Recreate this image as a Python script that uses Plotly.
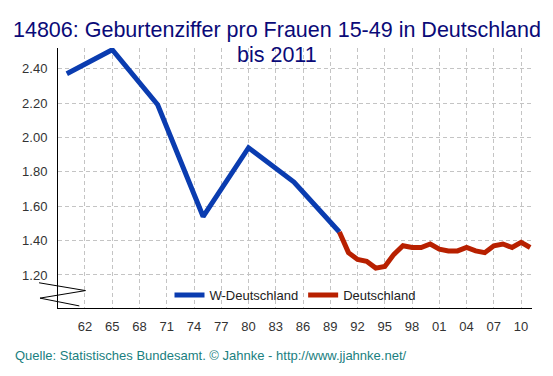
import plotly.graph_objects as go

# Data
west_years = [1960, 1965, 1970, 1975, 1980, 1985, 1990]
west_values = [2.37, 2.51, 2.19, 1.54, 1.94, 1.74, 1.45]

de_years = list(range(1990, 2012))
de_values = [1.45, 1.33, 1.29, 1.28, 1.24, 1.25, 1.32, 1.37, 1.36, 1.36, 1.38,
             1.35, 1.34, 1.34, 1.36, 1.34, 1.33, 1.37, 1.38, 1.36, 1.39, 1.36]

x_tick_vals = list(range(1962, 2011, 3))
x_tick_text = ["62", "65", "68", "71", "74", "77", "80", "83", "86", "89",
               "92", "95", "98", "01", "04", "07", "10"]
y_tick_vals = [1.2, 1.4, 1.6, 1.8, 2.0, 2.2, 2.4]

title_line1 = "14806: Geburtenziffer pro Frauen 15-49 in Deutschland"
title_line2 = "bis 2011"
footer_text = "Quelle: Statistisches Bundesamt. © Jahnke - http://www.jjahnke.net/"

FONT = "Liberation Sans, Arial, sans-serif"

fig = go.Figure()
fig.add_trace(go.Scatter(x=west_years, y=west_values, mode="lines",
                         name="W-Deutschland",
                         line=dict(color="#0a3cb0", width=5)))
fig.add_trace(go.Scatter(x=de_years, y=de_values, mode="lines",
                         name="Deutschland",
                         line=dict(color="#b82000", width=5)))

grid = dict(showgrid=True, gridcolor="#c4c4c4", griddash="4px,3px", gridwidth=1)

fig.update_layout(
    width=553, height=376,
    margin=dict(l=58, r=21, t=48, b=68),
    paper_bgcolor="white", plot_bgcolor="white",
    font=dict(family=FONT, size=13, color="#333333"),
    xaxis=dict(range=[1959.03, 2011.2], tickvals=x_tick_vals, ticktext=x_tick_text,
               showline=True, linecolor="black", linewidth=1, zeroline=False,
               ticks="", ticklabelstandoff=6,
               tickfont=dict(size=13, color="#333333"), **grid),
    yaxis=dict(range=[1.008, 2.52], tickvals=y_tick_vals, tickformat=".2f",
               showline=True, linecolor="black", linewidth=1, zeroline=False,
               ticks="", ticklabelstandoff=7,
               tickfont=dict(size=13, color="#333333"), **grid),
    legend=dict(orientation="h", x=0.5, xanchor="center", y=0.05, yanchor="middle",
                bgcolor="rgba(255,255,255,0)", font=dict(size=13, color="#222222"),
                itemwidth=30, tracegroupgap=0),
    showlegend=True,
)

# title as two centred lines
fig.add_annotation(text=title_line1, xref="paper", yref="paper", x=0.5, xshift=-18,
                   y=1.0, yshift=18, yanchor="middle", showarrow=False,
                   font=dict(family=FONT, size=21.5, color="#0a0a78"))
fig.add_annotation(text=title_line2, xref="paper", yref="paper", x=0.5, xshift=-18,
                   y=1.0, yshift=-7, yanchor="middle", showarrow=False,
                   font=dict(family=FONT, size=21.5, color="#0a0a78"))

# axis-break zigzag (decoration)
fig.add_shape(type="path", xref="paper", yref="paper",
              path="M -0.04,0.097 L 0.058,0.067 L -0.038,0.038 L 0.045,0.008",
              line=dict(color="black", width=1))

fig.add_annotation(text=footer_text, xref="paper", yref="paper",
                   x=-0.095, xanchor="left", y=-0.147, yanchor="top",
                   showarrow=False, font=dict(family=FONT, size=13, color="#1a8080"))

fig.write_html("out.html", config={"displayModeBar": False},
               post_script="document.body.style.margin='0';")
